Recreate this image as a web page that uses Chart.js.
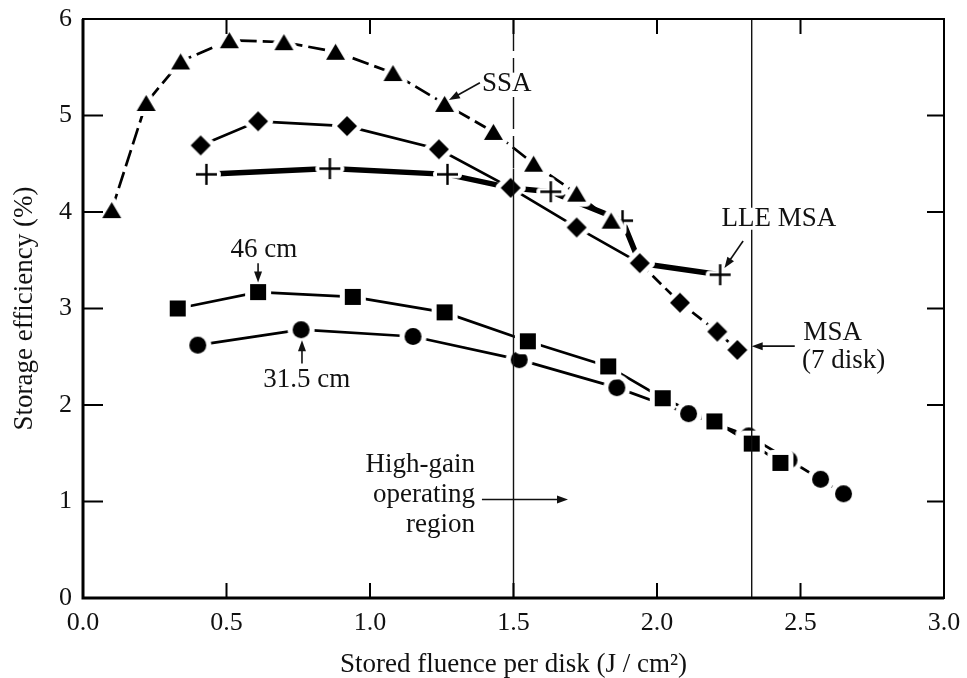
<!DOCTYPE html>
<html>
<head>
<meta charset="utf-8">
<script src="https://cdn.jsdelivr.net/npm/chart.js@4.4.0/dist/chart.umd.min.js"></script>
<style>
  html, body { margin: 0; padding: 0; background: #fff; }
  #wrap { width: 967px; height: 678px; position: relative; }
</style>
</head>
<body>
<div id="wrap"><canvas id="myChart"></canvas></div>
<script>
// SSA (triangles)
var ssaX = [0.10, 0.22, 0.34, 0.51, 0.70, 0.88, 1.08, 1.26, 1.43, 1.57, 1.72, 1.84];
var ssaY = [4.02, 5.13, 5.56, 5.78, 5.76, 5.66, 5.44, 5.12, 4.83, 4.50, 4.19, 3.91];

// MSA 7 disk (diamonds)
var msaX = [0.41, 0.61, 0.92, 1.24, 1.49, 1.72, 1.94, 2.08, 2.21, 2.28];
var msaY = [4.69, 4.94, 4.89, 4.65, 4.25, 3.84, 3.47, 3.06, 2.76, 2.57];

// LLE MSA (plus) - passes through two of the MSA points
var lleX = [0.43, 0.86, 1.27, 1.49, 1.63, 1.88, 1.94, 2.22];
var lleY = [4.39, 4.45, 4.39, 4.25, 4.21, 3.91, 3.47, 3.35];

// 46 cm (squares)
var cm46X = [0.33, 0.61, 0.94, 1.26, 1.55, 1.83, 2.02, 2.20, 2.33, 2.43];
var cm46Y = [3.00, 3.17, 3.12, 2.96, 2.66, 2.40, 2.07, 1.83, 1.60, 1.40];

// 31.5 cm (circles)
var cm31X = [0.40, 0.76, 1.15, 1.52, 1.86, 2.11, 2.32, 2.46, 2.57, 2.65];
var cm31Y = [2.62, 2.78, 2.71, 2.47, 2.18, 1.91, 1.68, 1.43, 1.23, 1.08];

// vertical reference lines (J/cm2)
var refLines = [1.5, 2.33];

var xTicks = [0, 0.5, 1.0, 1.5, 2.0, 2.5, 3.0];
var yTicks = [0, 1, 2, 3, 4, 5, 6];

var serif = '"Liberation Serif", "DejaVu Serif", serif';

function pts(xs, ys) {
  return xs.map(function(x, i) { return { x: x, y: ys[i] }; });
}

// marker with a white halo so the lines stop short of it
function makeMarker(shape, w, h, gap) {
  var c = document.createElement('canvas');
  c.width = Math.ceil(w + gap * 2 + 4);
  c.height = Math.ceil(h + gap * 2 + 4);
  var g = c.getContext('2d');
  var cx = c.width / 2, cy = c.height / 2;
  g.beginPath();
  if (shape == 'triangle') {
    g.moveTo(cx, cy - h / 2); g.lineTo(cx + w / 2, cy + h / 2); g.lineTo(cx - w / 2, cy + h / 2); g.closePath();
  } else if (shape == 'diamond') {
    g.moveTo(cx, cy - h / 2); g.lineTo(cx + w / 2, cy); g.lineTo(cx, cy + h / 2); g.lineTo(cx - w / 2, cy); g.closePath();
  } else if (shape == 'square') {
    g.rect(cx - w / 2, cy - h / 2, w, h);
  } else if (shape == 'circle') {
    g.arc(cx, cy, w / 2, 0, Math.PI * 2);
  } else {
    g.moveTo(cx - w / 2, cy); g.lineTo(cx + w / 2, cy);
    g.moveTo(cx, cy - h / 2); g.lineTo(cx, cy + h / 2);
  }
  g.strokeStyle = '#fff';
  g.lineJoin = 'round';
  g.lineCap = 'round';
  g.lineWidth = gap * 2;
  g.stroke();
  if (shape == 'plus') {
    g.strokeStyle = '#000';
    g.lineCap = 'butt';
    g.lineWidth = 2.4;
    g.stroke();
  } else {
    g.fillStyle = '#000';
    g.fill();
  }
  return c;
}

var triMark = makeMarker('triangle', 19, 16, 5);
var diaMark = makeMarker('diamond', 20, 20, 5);
var plusMark = makeMarker('plus', 21, 21, 4);
var sqMark = makeMarker('square', 16, 16, 5);
var circMark = makeMarker('circle', 17, 17, 5);

// text labels and arrows, in data units
var notes = [
  { text: 'SSA', x: 1.39, y: 5.33, align: 'left', clear: true },
  { text: 'LLE MSA', x: 2.225, y: 3.93, align: 'left', clear: true },
  { text: 'MSA', x: 2.51, y: 2.75, align: 'left' },
  { text: '(7 disk)', x: 2.505, y: 2.46, align: 'left' },
  { text: '46 cm', x: 0.63, y: 3.61, align: 'center' },
  { text: '31.5 cm', x: 0.78, y: 2.26, align: 'center' },
  { text: 'High-gain', x: 1.366, y: 1.38, align: 'right' },
  { text: 'operating', x: 1.366, y: 1.07, align: 'right' },
  { text: 'region', x: 1.366, y: 0.76, align: 'right' }
];
var arrows = [
  [1.383, 5.34, 1.275, 5.16],
  [2.30, 3.70, 2.235, 3.42],
  [2.48, 2.61, 2.33, 2.61],
  [0.61, 3.47, 0.61, 3.27],
  [0.763, 2.43, 0.763, 2.67],
  [1.39, 1.02, 1.69, 1.02]
];

var framePlugin = {
  id: 'frame',
  afterDatasetsDraw: function(chart) {
    var c = chart.ctx, a = chart.chartArea;
    var xs = chart.scales.x, ys = chart.scales.y;
    c.save();

    // vertical reference lines
    c.strokeStyle = '#111';
    c.lineWidth = 1.4;
    refLines.forEach(function(v, i) {
      var px = xs.getPixelForValue(v);
      if (i == 0) {
        c.setLineDash([32, 7]);
        c.beginPath(); c.moveTo(px, a.top); c.lineTo(px, ys.getPixelForValue(4.45)); c.stroke();
        c.setLineDash([]);
        c.beginPath(); c.moveTo(px, ys.getPixelForValue(4.45)); c.lineTo(px, a.bottom); c.stroke();
      } else {
        c.beginPath(); c.moveTo(px, a.top); c.lineTo(px, a.bottom); c.stroke();
      }
    });

    // frame
    c.strokeStyle = '#000';
    c.lineWidth = 2;
    c.strokeRect(a.left, a.top, a.right - a.left, a.bottom - a.top);
    c.lineWidth = 3;
    c.beginPath(); c.moveTo(a.left, a.top); c.lineTo(a.left, a.bottom); c.lineTo(a.right, a.bottom); c.stroke();

    // inward ticks
    c.lineWidth = 2;
    c.beginPath();
    xTicks.forEach(function(v) {
      if (v <= 0 || v >= 3) return;
      var px = xs.getPixelForValue(v);
      c.moveTo(px, a.bottom); c.lineTo(px, a.bottom - 15);
      c.moveTo(px, a.top); c.lineTo(px, a.top + 15);
    });
    yTicks.forEach(function(v) {
      if (v <= 0 || v >= 6) return;
      var py = ys.getPixelForValue(v);
      c.moveTo(a.left, py); c.lineTo(a.left + 20, py);
      c.moveTo(a.right, py); c.lineTo(a.right - 17, py);
    });
    c.stroke();

    // labels
    c.font = '27px ' + serif;
    c.textBaseline = 'middle';
    c.fillStyle = '#111';
    notes.forEach(function(n) {
      var px = xs.getPixelForValue(n.x), py = ys.getPixelForValue(n.y);
      c.textAlign = n.align;
      if (n.clear) {
        var w = c.measureText(n.text).width;
        c.fillStyle = '#fff';
        c.fillRect(px - 1, py - 11, w + 2, 22);
        c.fillStyle = '#111';
      }
      c.fillText(n.text, px, py);
    });

    // arrows
    c.strokeStyle = '#111';
    c.fillStyle = '#111';
    c.lineWidth = 1.6;
    arrows.forEach(function(ar) {
      var x0 = xs.getPixelForValue(ar[0]), y0 = ys.getPixelForValue(ar[1]);
      var x1 = xs.getPixelForValue(ar[2]), y1 = ys.getPixelForValue(ar[3]);
      var ang = Math.atan2(y1 - y0, x1 - x0), L = 11, W = 4;
      c.beginPath(); c.moveTo(x0, y0);
      c.lineTo(x1 - Math.cos(ang) * L * 0.8, y1 - Math.sin(ang) * L * 0.8); c.stroke();
      c.beginPath();
      c.moveTo(x1, y1);
      c.lineTo(x1 - Math.cos(ang) * L - Math.sin(ang) * W, y1 - Math.sin(ang) * L + Math.cos(ang) * W);
      c.lineTo(x1 - Math.cos(ang) * L + Math.sin(ang) * W, y1 - Math.sin(ang) * L - Math.cos(ang) * W);
      c.closePath(); c.fill();
    });
    c.restore();
  }
};

// one line-only and one marker-only dataset per series, markers drawn on top
var series = [
  { label: 'SSA', data: pts(ssaX, ssaY), mark: triMark, width: 2.7, dash: [17, 6] },
  { label: 'MSA (7 disk)', data: pts(msaX, msaY), mark: diaMark, width: 2.7, dashFrom: 1.9 },
  { label: 'LLE MSA', data: pts(lleX, lleY), mark: plusMark, width: 5.5 },
  { label: '46 cm', data: pts(cm46X, cm46Y), mark: sqMark, width: 2.7 },
  { label: '31.5 cm', data: pts(cm31X, cm31Y), mark: circMark, width: 2.7 }
];

var datasets = [];
series.forEach(function(s) {
  datasets.push({
    label: s.label + ' markers',
    data: s.data,
    showLine: false,
    pointStyle: s.mark,
    pointRadius: 10,
    order: 0
  });
});
series.forEach(function(s) {
  datasets.push({
    label: s.label,
    data: s.data,
    showLine: true,
    borderColor: '#000',
    borderWidth: s.width,
    borderDash: s.dash || [],
    segment: s.dashFrom ? {
      borderDash: function(ctx) { return ctx.p0.parsed.x >= s.dashFrom ? [12, 6] : undefined; }
    } : {},
    pointRadius: 0,
    order: 1
  });
});

var ctx = document.getElementById('myChart');

var myChart = new Chart(ctx, {
  type: 'scatter',
  data: { datasets: datasets },
  options: {
    responsive: true,
    maintainAspectRatio: false,
    animation: false,
    layout: { padding: { top: 19, right: 23, left: 0, bottom: 0 } },
    plugins: { legend: { display: false }, tooltip: { enabled: false } },
    scales: {
      x: {
        type: 'linear', min: 0, max: 3,
        afterFit: function(s) { s.height = 80; s.paddingLeft = 0; s.paddingRight = 0; },
        afterBuildTicks: function(s) { s.ticks = xTicks.map(function(v) { return { value: v }; }); },
        grid: { display: false, drawTicks: false },
        border: { display: false },
        ticks: {
          color: '#111', padding: 10, maxRotation: 0, autoSkip: false,
          font: { family: serif, size: 26 },
          callback: function(v) { return v.toFixed(1); }
        },
        title: {
          display: true, text: 'Stored fluence per disk (J / cm²)', color: '#111',
          font: { family: serif, size: 27, lineHeight: 1 },
          padding: { top: 1.5, bottom: 0 }
        }
      },
      y: {
        type: 'linear', min: 0, max: 6,
        afterFit: function(s) { s.width = 83; s.paddingTop = 0; s.paddingBottom = 0; },
        afterBuildTicks: function(s) { s.ticks = yTicks.map(function(v) { return { value: v }; }); },
        grid: { display: false, drawTicks: false },
        border: { display: false },
        ticks: {
          color: '#111', padding: 11, autoSkip: false,
          font: { family: serif, size: 26 }
        },
        title: {
          display: true, text: 'Storage efficiency (%)', color: '#111',
          font: { family: serif, size: 27, lineHeight: 1 },
          padding: { top: 11.5, bottom: 0 }
        }
      }
    }
  },
  plugins: [framePlugin]
});
</script>
</body>
</html>
